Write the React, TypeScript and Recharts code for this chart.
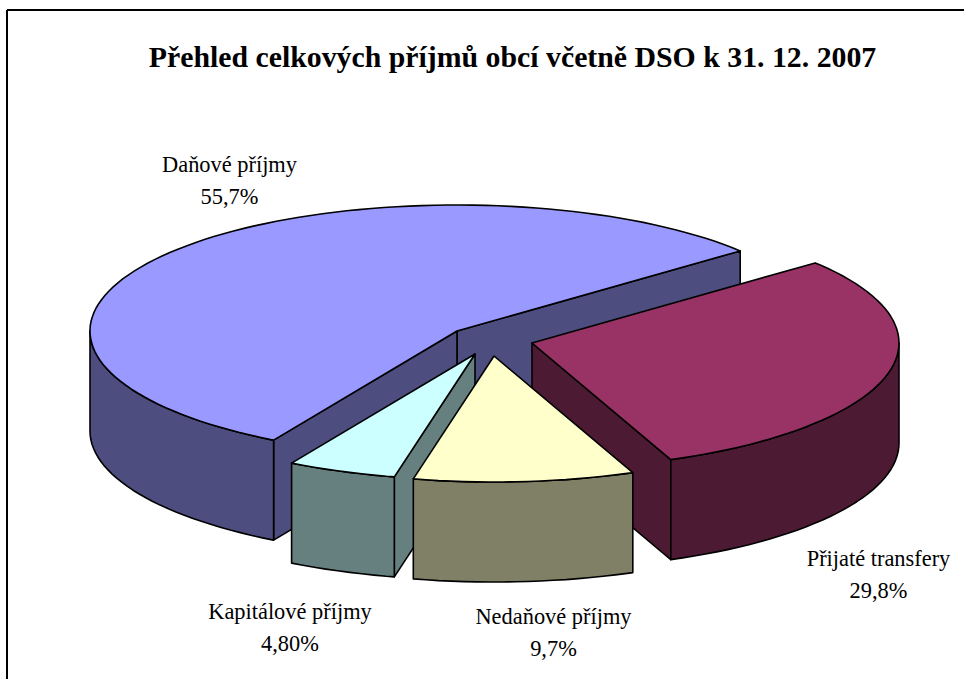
import { PieChart, Pie } from 'recharts';

const CATEGORIES = ['Daňové příjmy', 'Kapitálové příjmy', 'Nedaňové příjmy', 'Přijaté transfery'];
const VALUES = [55.7, 4.8, 9.7, 29.8];
const VALUE_LABELS = ['55,7%', '4,80%', '9,7%', '29,8%'];

const TOP_COLORS = ['#9999ff', '#ccffff', '#ffffcc', '#993366'];
const SIDE_COLORS = ['#4d4d80', '#668080', '#808066', '#4d1a33'];
// how far each slice is pulled out of the pie, in px
const EXPLODE_X = [0, 18, 37, 75];
const EXPLODE_Y = [0, 23, 25, 12];
const LABEL_X = [229.5, 290, 553.5, 878.5];
const LABEL_Y = [172, 619, 624, 566];

const TITLE = 'Přehled celkových příjmů obcí včetně DSO k 31. 12. 2007';

const W = 964;
const H = 679;
const CX = 457;
const CY = 331;
const RX = 367;
const RY = 126;
const DEPTH = 100;
const START = 39.5;
const FONT = '"Liberation Serif", "Times New Roman", serif';

const pieData = CATEGORIES.map((name, i) => ({ name, value: VALUES[i], idx: i }));

const rad = (a: number) => (a * Math.PI) / 180;

function arcPoints(x: number, y: number, from: number, to: number) {
  const pts: [number, number][] = [];
  for (let a = from; a < to; a += 2) {
    pts.push([x + RX * Math.cos(rad(a)), y - RY * Math.sin(rad(a))]);
  }
  pts.push([x + RX * Math.cos(rad(to)), y - RY * Math.sin(rad(to))]);
  return pts;
}

const toPath = (pts: [number, number][]) =>
  'M' + pts.map((p) => `${p[0].toFixed(1)},${p[1].toFixed(1)}`).join('L') + 'Z';

// extruded elliptical slice, angles come from the Pie sector props
function Slice3D({ props }: { props: any }) {
  const { startAngle, endAngle, cx, cy, idx } = props;
  const x = cx + EXPLODE_X[idx];
  const y = cy + EXPLODE_Y[idx];
  const s = Math.min(startAngle, endAngle);
  const e = Math.max(startAngle, endAngle);
  const top = arcPoints(x, y, s, e);
  const first = top[0];
  const last = top[top.length - 1];
  const common = { stroke: '#000', strokeWidth: 1.6, strokeLinejoin: 'round' as const, fill: SIDE_COLORS[idx] };

  const faces: [number, number][][] = [];
  if (Math.cos(rad(s)) > 0) {
    faces.push([[x, y], first, [first[0], first[1] + DEPTH], [x, y + DEPTH]]);
  }
  if (Math.cos(rad(e)) < 0) {
    faces.push([[x, y], last, [last[0], last[1] + DEPTH], [x, y + DEPTH]]);
  }

  // front wall, only the lower half of the ellipse is seen
  const walls: [number, number][][] = [];
  for (const k of [0, 360]) {
    const from = Math.max(s, 180 + k);
    const to = Math.min(e, 360 + k);
    if (to > from) {
      const arc = arcPoints(x, y, from, to);
      const low = arc.map((p) => [p[0], p[1] + DEPTH] as [number, number]).reverse();
      walls.push([...arc, ...low]);
    }
  }

  return (
    <g>
      {faces.map((f, i) => (
        <path key={i} d={toPath(f)} {...common} />
      ))}
      {walls.map((f, i) => (
        <path key={i} d={toPath(f)} {...common} />
      ))}
      <path d={toPath([[x, y], ...top])} {...common} fill={TOP_COLORS[idx]} />
    </g>
  );
}

export default function App() {
  return (
    <div style={{ position: 'absolute', left: 0, top: 0, width: W, height: H, background: '#fff' }}>
      <PieChart width={W} height={H} margin={{ top: 0, right: 0, bottom: 0, left: 0 }}>
        {/* only the top and left frame lines fall inside the picture */}
        <line x1={7} y1={10} x2={W} y2={10} stroke="#000" strokeWidth={2} />
        <line x1={7} y1={10} x2={7} y2={H} stroke="#000" strokeWidth={2} />
        <text x={512.5} y={67} textAnchor="middle" fontFamily={FONT} fontWeight="bold" fontSize={29.8} fill="#000">
          {TITLE}
        </text>

        {/* Nedaňové sits in front of the transfer slice, so it gets a second pass */}
        <Pie
          data={pieData}
          dataKey="value"
          cx={CX}
          cy={CY}
          innerRadius={0}
          outerRadius={RX}
          startAngle={START}
          endAngle={START + 360}
          isAnimationActive={false}
          shape={(p: any) => (p.idx === 2 ? <g /> : <Slice3D props={p} />)}
        />
        <Pie
          data={pieData}
          dataKey="value"
          cx={CX}
          cy={CY}
          innerRadius={0}
          outerRadius={RX}
          startAngle={START}
          endAngle={START + 360}
          isAnimationActive={false}
          shape={(p: any) => (p.idx === 2 ? <Slice3D props={p} /> : <g />)}
        />

        {CATEGORIES.map((name, i) => (
          <text key={name} textAnchor="middle" fontFamily={FONT} fontSize={22.4} fill="#000">
            <tspan x={LABEL_X[i]} y={LABEL_Y[i]}>{name}</tspan>
            <tspan x={LABEL_X[i]} y={LABEL_Y[i] + 32}>{VALUE_LABELS[i]}</tspan>
          </text>
        ))}
      </PieChart>
    </div>
  );
}
